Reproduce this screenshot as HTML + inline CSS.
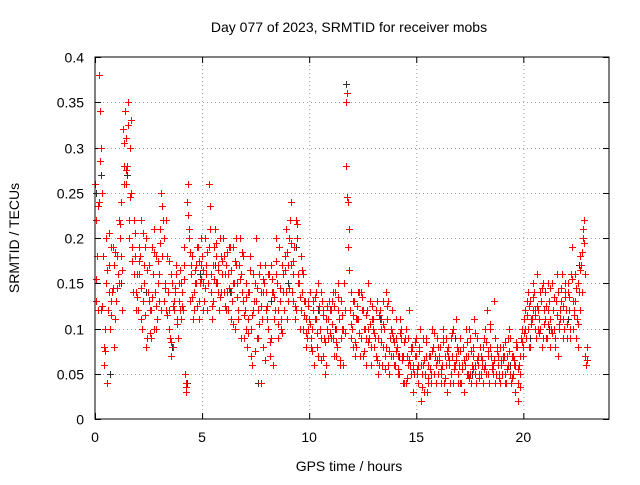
<!DOCTYPE html>
<html><head><meta charset="utf-8"><style>
body{margin:0;background:#fff;font-family:"Liberation Sans",sans-serif}
svg text{font-family:"Liberation Sans",sans-serif;font-size:14px;fill:#000}
</style></head><body>
<svg id="chart" width="640" height="480" viewBox="0 0 640 480" xmlns="http://www.w3.org/2000/svg">
<rect width="640" height="480" fill="#fff"/>
<text x="349" y="32" text-anchor="middle">Day 077 of 2023, SRMTID for receiver mobs</text>
<text x="349" y="471" text-anchor="middle">GPS time / hours</text>
<text transform="translate(19,238) rotate(-90)" text-anchor="middle">SRMTID / TECUs</text>
<g id="grid"></g>
<g id="marks"></g>
<rect x="95" y="57" width="514" height="362" fill="none" stroke="#000" stroke-width="1"/>
</svg>
<script>
const xTicks=[0,5,10,15,20];
const yTicks=[0,0.05,0.1,0.15,0.2,0.25,0.3,0.35,0.4];
const yTickLabels=["0","0.05","0.1","0.15","0.2","0.25","0.3","0.35","0.4"];
const redA=[.26,.18,.38,.12,.08,.15,.12,.10,.14,.17,.13,.22,.18,.32,.34,.28,.20,.25,.16,.14,.12,.18,.10,.15,.20,.13,.09,.16,.14,.11,.16,.25,.20,.12,.14,.09,.15,.12,.17,.13,.15,.12,.05,.24,.20,.16,.14,.17,.19,.15,.18,.13,.16,.19,.14,.17,.21,.15,.12,.18,.14,.17,.12,.19,.13,.15,.20,.11,.16,.13,.12,.08,.14,.10,.16,.13,.09,.17,.11,.15,.14,.10,.17,.06,.12,.15,.19,.11,.16,.14,.17,.22,.14,.19,.12,.15,.18,.10,.13,.09,.11,.08,.12,.14,.07,.10,.13,.09,.06,.11,.12,.09,.14,.08,.11,.13,.10,.35,.19,.12,.10,.13,.08,.11,.14,.07,.10,.12,.09,.08,.11,.07,.09,.12,.06,.10,.08,.13,.07,.09,.06,.08,.05,.10,.07,.04,.09,.06,.08,.05,.07,.04,.06,.09,.05,.03,.07,.05,.08,.06,.05,.08,.06,.04,.09,.07,.05,.10,.06,.08,.06,.04,.08,.07,.05,.09,.06,.11,.04,.07,.05,.08,.06,.12,.04,.07,.05,.09,.06,.08,.05,.07,.04,.06,.09,.05,.03,.08,.06,.09,.08,.12,.10,.13,.11,.14,.09,.12,.10,.15,.11,.09,.13,.10,.12,.08,.14,.11,.16,.10,.12,.15,.09,.13,.16,.11,.14,.17,.20,.07];
const redB=[.22,.12,.34,.25,.06,.20,.17,.13,.19,.11,.18,.15,.24,.28,.26,.35,.30,.19,.22,.12,.16,.22,.13,.19,.09,.17,.12,.21,.10,.15,.21,.18,.13,.22,.10,.16,.08,.14,.11,.15,.11,.17,.03,.26,.13,.18,.12,.15,.11,.17,.15,.20,.12,.26,.16,.13,.18,.14,.20,.16,.18,.12,.16,.14,.19,.10,.15,.17,.09,.18,.15,.11,.18,.06,.13,.20,.12,.14,.08,.17,.11,.16,.09,.14,.20,.09,.13,.17,.12,.21,.13,.24,.16,.11,.20,.15,.12,.16,.08,.13,.14,.10,.06,.11,.15,.09,.12,.05,.10,.13,.09,.14,.07,.12,.06,.10,.15,.28,.24,.09,.13,.07,.11,.14,.09,.12,.06,.10,.13,.11,.08,.12,.05,.10,.13,.07,.11,.05,.10,.07,.09,.05,.11,.07,.04,.10,.06,.08,.03,.07,.05,.08,.02,.06,.09,.04,.07,.10,.05,.04,.08,.05,.10,.07,.03,.06,.09,.04,.07,.05,.09,.06,.03,.10,.07,.05,.08,.06,.09,.05,.07,.04,.10,.05,.08,.06,.13,.05,.07,.04,.08,.05,.07,.10,.04,.07,.06,.02,.07,.10,.11,.09,.14,.08,.12,.10,.16,.11,.13,.09,.14,.12,.08,.15,.10,.13,.07,.12,.09,.14,.09,.12,.16,.10,.13,.08,.18,.14,.22,.06];
const redC=[.13,.24,.30,.18,.10,.04,.14,.19,.08,.13,.16,.20,.12,.26,.31,.22,.33,.14,.18,.16,.19,.11,.17,.08,.14,.12,.19,.10,.18,.13,.12,.22,.15,.18,.12,.07,.13,.16,.09,.12,.14,.19,.04,.21,.17,.11,.15,.19,.13,.20,.12,.17,.15,.21,.11,.19,.15,.17,.14,.20,.16,.14,.19,.11,.15,.17,.12,.20,.14,.09,.10,.14,.07,.12,.15,.09,.16,.04,.14,.12,.16,.07,.14,.11,.16,.12,.10,.14,.18,.11,.20,.17,.13,.22,.16,.10,.14,.13,.11,.10,.09,.13,.11,.08,.12,.14,.07,.11,.09,.12,.13,.07,.10,.15,.09,.06,.12,.36,.21,.14,.08,.11,.14,.07,.12,.10,.09,.15,.06,.10,.09,.13,.06,.11,.08,.14,.06,.09,.12,.06,.11,.07,.09,.04,.09,.07,.12,.05,.06,.09,.06,.10,.05,.03,.07,.06,.04,.08,.07,.09,.07,.04,.09,.06,.08,.04,.07,.06,.11,.04,.04,.08,.06,.05,.10,.04,.07,.05,.06,.08,.06,.09,.05,.07,.10,.06,.04,.08,.05,.06,.07,.04,.09,.05,.07,.06,.08,.04,.05,.07,.10,.13,.08,.11,.15,.12,.10,.14,.08,.12,.09,.15,.11,.12,.09,.16,.10,.13,.11,.15,.14,.10,.19,.12,.09,.15,.12,.21,.16,.08];
const redD=[.155,.235,.285,.125,.075,.165,.205,.115,.145,.185,.145,.215,.165,.305,.275,.325,.245,.175,.205,.135,.175,.145,.205,.115,.165,.095,.135,.185,.125,.175,.195,.235,.145,.115,.175,.085,.125,.145,.105,.165,.125,.155,.035,.225,.185,.135,.165,.125,.175,.155,.165,.145,.185,.235,.125,.155,.195,.165,.135,.175,.125,.185,.145,.165,.105,.175,.135,.155,.185,.115,.135,.095,.165,.115,.075,.145,.105,.125,.155,.065,.125,.085,.155,.135,.175,.105,.145,.095,.165,.185,.145,.195,.175,.125,.215,.135,.165,.115,.095,.125,.105,.075,.135,.095,.125,.065,.115,.085,.125,.095,.105,.125,.085,.135,.065,.115,.095,.245,.165,.105,.115,.085,.125,.095,.135,.075,.115,.085,.105,.125,.095,.065,.115,.085,.105,.055,.125,.075,.095,.085,.075,.055,.095,.065,.085,.045,.065,.075,.055,.085,.055,.075,.035,.065,.085,.045,.055,.075,.095,.065,.065,.055,.085,.045,.075,.065,.095,.055,.065,.075,.075,.055,.065,.085,.045,.075,.055,.095,.065,.045,.065,.055,.085,.075,.105,.055,.065,.075,.045,.065,.065,.085,.055,.075,.045,.065,.085,.055,.035,.085,.095,.115,.125,.105,.135,.115,.125,.095,.145,.105,.125,.105,.145,.095,.135,.115,.105,.145,.125,.135,.105,.135,.155,.115,.145,.105,.165,.185,.195,.065];
const blackT=[0.05,0.3,0.7,1.2,1.5,2.4,3.1,3.6,4.3,4.9,5.6,6.3,7.0,7.6,8.2,9.0,9.4,10.4,11.2,11.7,12.4,13.3,14.2,15.1,16.0,16.8,17.6,18.5,19.4,20.3,21.2,22.1,22.6];
const blackV=[.25,.27,.05,.15,.27,.14,.12,.08,.04,.16,.17,.14,.12,.04,.13,.15,.19,.12,.10,.37,.09,.11,.07,.06,.08,.09,.05,.07,.06,.09,.10,.11,.17];
const X=v=>95+v*(514/24);
const Y=v=>419-v*(362/0.4);
const NS="http://www.w3.org/2000/svg";
const grid=document.getElementById('grid');
const marks=document.getElementById('marks');
function line(p,x1,y1,x2,y2,st,dash){const l=document.createElementNS(NS,'line');l.setAttribute('x1',x1);l.setAttribute('y1',y1);l.setAttribute('x2',x2);l.setAttribute('y2',y2);l.setAttribute('stroke',st);l.setAttribute('stroke-width',1);if(dash)l.setAttribute('stroke-dasharray',dash);p.appendChild(l);return l;}
function text(p,x,y,s,anchor){const t=document.createElementNS(NS,'text');t.setAttribute('x',x);t.setAttribute('y',y);t.setAttribute('text-anchor',anchor);t.textContent=s;p.appendChild(t);return t;}
xTicks.forEach(v=>{const x=X(v)+0.5;
 if(v>0){const g=line(grid,x,57,x,419,'#a0a0a0','1,3');}
 const t1=line(grid,x,419,x,413,'#000');
 const t2=line(grid,x,57,x,63,'#000');
 const lb=text(grid,X(v),442,String(v),'middle');});
yTicks.forEach((v,i)=>{const y=Math.round(Y(v))+0.5;
 if(v>0&&v<0.4){const g=line(grid,95,y,609,y,'#a0a0a0','1,3');}
 const t1=line(grid,95,y,101,y,'#000');
 const t2=line(grid,603,y,609,y,'#000');
 const lb=text(grid,84,y+5,yTickLabels[i],'end');});
function cross(t,v,col){const g=document.createElementNS(NS,'path');const x=Math.round(X(t))+0.5,y=Math.round(Y(v))+0.5;
 g.setAttribute('d',`M${x-3.5},${y}H${x+3.5}M${x},${y-3.5}V${y+3.5}`);g.setAttribute('stroke',col);g.setAttribute('stroke-width',1);g.setAttribute('fill','none');marks.appendChild(g);return g;}
blackV.forEach((v,i)=>{const c=cross(blackT[i],v,'#303030');
 
 });
[[redA,0],[redB,0.033],[redC,0.066],[redD,0.05]].forEach(([arr,off])=>arr.forEach((v,i)=>{const c=cross(i*0.1+off,v,'#ff0000');
 
 }));
</script>
</body></html>
